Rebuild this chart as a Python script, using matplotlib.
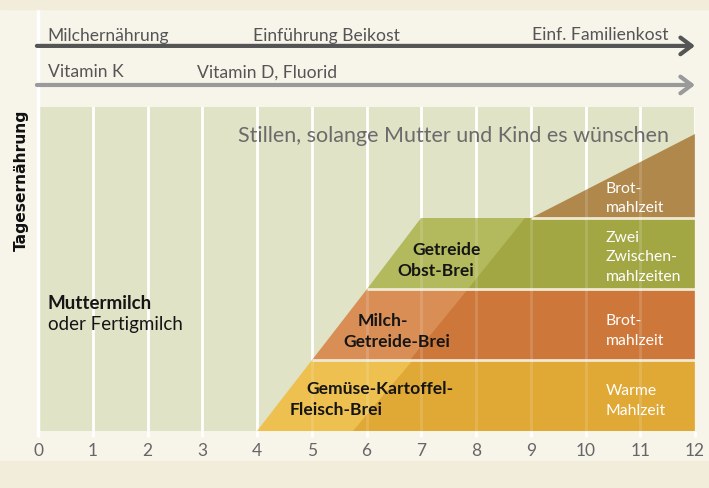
import matplotlib
matplotlib.use("Agg")
import matplotlib.pyplot as plt
from matplotlib.patches import Polygon, Rectangle

plt.rcParams['font.family'] = ['Lato', 'DejaVu Sans']

# data
months = list(range(0, 13))
band_names = ['Gemüse-Kartoffel-\nFleisch-Brei', 'Milch-\nGetreide-Brei', 'Getreide\nObst-Brei']
band_start = [4, 5, 6]          # month where each band begins at its bottom
band_level = [0, 1, 2]          # bottom level of each band
shade_start = [5.75, 6.8, 7.85]  # light/dark border at band bottom
shade_end = [6.85, 7.85, 8.9]    # light/dark border at band top
band_light = ['#edc04f', '#d98e56', '#b3b95d']
band_dark = ['#e0a834', '#cd783a', '#a2a743']
brot_start = 9
brot_top = 4.18
brot_color = '#b0884c'

band_label_pos = [[(4.91, 0.54), (4.60, 0.24)],
                  [(5.84, 1.49), (5.57, 1.20)],
                  [(6.83, 2.49), (6.56, 2.20)]]
right_labels = ['Warme\nMahlzeit', 'Brot-\nmahlzeit', 'Zwei\nZwischen-\nmahlzeiten', 'Brot-\nmahlzeit']
right_label_y = [0.52, 1.51, 2.68, 3.37]

top_labels = ['Milchernährung', 'Einführung Beikost', 'Einf. Familienkost']
top_label_x = [0.18, 3.93, 11.52]
vit_labels = ['Vitamin K', 'Vitamin D, Fluorid']
vit_label_x = [0.18, 2.9]

fig = plt.figure(figsize=(7.09, 4.89), dpi=100, facecolor='#f7f4ea')
fig.patches.append(Rectangle((0, 1 - 10 / 489), 1, 10 / 489, transform=fig.transFigure,
                             color='#f2ecda', zorder=0))
fig.patches.append(Rectangle((0, 0), 1, 27 / 489, transform=fig.transFigure,
                             color='#f2ecda', zorder=0))

ax = fig.add_axes([38 / 709, 57 / 489, 657 / 709, 324 / 489])
ax.set_facecolor('#e1e3c6')
ax.set_xlim(0, 12)
ax.set_ylim(0, 4.56)
for s in ax.spines.values():
    s.set_visible(False)
ax.set_yticks([])
ax.set_xticks(months)
ax.tick_params(axis='x', length=4, width=2, color='white', labelcolor='#666666',
               labelsize=12.5, pad=4)
ax.grid(axis='x', color='white', lw=2)
ax.set_axisbelow(True)
ax.plot([0, 0], [-0.06, 5.94], color='white', lw=2.5, clip_on=False, zorder=0.5)

# bands
for i in range(3):
    y0 = band_level[i]
    y1 = y0 + 1
    x0 = band_start[i]
    ax.add_patch(Polygon([(x0, y0), (12, y0), (12, y1), (x0 + 1, y1)],
                         closed=True, color=band_light[i], lw=0, zorder=2))
    ax.add_patch(Polygon([(shade_start[i], y0), (12, y0), (12, y1), (shade_end[i], y1)],
                         closed=True, color=band_dark[i], lw=0, zorder=2.1))
    if i > 0:
        ax.plot([x0, 12], [y0, y0], color='#efe9d2', lw=2, zorder=2.5, solid_capstyle='butt')
ax.add_patch(Polygon([(brot_start, 3), (12, 3), (12, brot_top)], closed=True,
                     color=brot_color, lw=0, zorder=2))
ax.plot([brot_start, 12], [3, 3], color='#efe9d2', lw=2, zorder=2.5, solid_capstyle='butt')

# faint gridlines over the bands
ax.vlines(months[1:], 0, 4.56, color='white', lw=2, alpha=0.15, zorder=3)

# labels in bands
for i, name in enumerate(band_names):
    for line, (x, y) in zip(name.split('\n'), band_label_pos[i]):
        ax.text(x, y, line, fontsize=12.6, fontweight='bold', color='#151515',
                va='baseline', ha='left', zorder=4)
for txt, y in zip(right_labels, right_label_y):
    for k, line in enumerate(txt.split('\n')):
        ax.text(10.37, y - k * 0.28, line, fontsize=11.3, color='white',
                va='baseline', ha='left', zorder=4)

ax.text(0.18, 1.73, 'Muttermilch', fontsize=13.5, fontweight='bold', color='#151515', va='baseline')
ax.text(0.18, 1.44, 'oder Fertigmilch', fontsize=13.5, color='#151515', va='baseline')
ax.text(3.65, 4.08, 'Stillen, solange Mutter und Kind es wünschen', fontsize=15.5,
        color='#6b6b6b', va='baseline', zorder=4)

# arrows on top
ax.annotate('', xy=(12.0, 5.42), xytext=(-0.02, 5.42), annotation_clip=False,
            arrowprops=dict(arrowstyle='->,head_length=0.4,head_width=0.3',
                            color='#555555', lw=3, mutation_scale=20, shrinkA=0, shrinkB=0))
ax.annotate('', xy=(12.0, 4.87), xytext=(-0.02, 4.87), annotation_clip=False,
            arrowprops=dict(arrowstyle='->,head_length=0.4,head_width=0.3',
                            color='#9a9a9a', lw=3, mutation_scale=20, shrinkA=0, shrinkB=0))
for txt, x in zip(top_labels, top_label_x):
    ax.text(x, 5.51, txt, fontsize=12.6, color='#555555', va='baseline',
            ha='right' if x > 11 else 'left', clip_on=False)
for txt, x in zip(vit_labels, vit_label_x):
    ax.text(x, 4.99, txt, fontsize=12.6, color='#555555', va='baseline', clip_on=False)

ax.text(-0.31, 4.54, 'Tagesernährung', rotation=90, fontsize=11.2, fontweight='bold',
        family='DejaVu Sans', color='#111111', ha='center', va='top', clip_on=False)
ax.text(12.04, -0.76, 'Alter (Monate)', fontsize=13.3, fontweight='bold', color='#111111',
        ha='right', va='baseline', clip_on=False)

fig.savefig('out.png', dpi=100, facecolor=fig.get_facecolor())
